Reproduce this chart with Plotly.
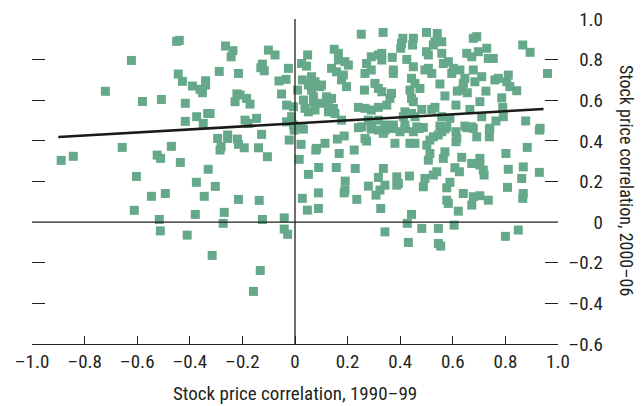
import plotly.graph_objects as go

# Country-pair stock price correlations: 1990-99 (x) vs 2000-06 (y)
pairs = [
    (-0.45,0.89),(-0.44,0.895),(-0.622,0.796),(-0.444,0.729),(-0.428,0.693),(-0.34,0.696),(-0.39,0.670),(-0.34,0.675),
    (-0.361,0.654),(-0.352,0.637),(-0.721,0.644),(-0.58,0.594),(-0.508,0.604),(-0.417,0.585),(-0.332,0.535),(-0.374,0.519),
    (-0.417,0.496),(-0.349,0.486),
    (0.252,0.925),(0.335,0.934),(-0.264,0.867),(-0.236,0.844),(-0.243,0.814),(-0.101,0.847),(-0.076,0.823),(-0.288,0.742),
    (-0.215,0.732),(-0.124,0.778),(-0.117,0.745),(-0.13,0.76),(-0.025,0.757),(-0.061,0.695),(-0.034,0.703),
    (0.048,0.823),(0.025,0.781),(0.044,0.768),(0.149,0.851),(0.165,0.831),(0.165,0.798),(0.19,0.79),(0.203,0.773),
    (0.139,0.757),(0.158,0.740),(0.184,0.724),(0.177,0.70),(0.196,0.667),
    (0.29,0.814),(0.317,0.823),(0.33,0.798),(0.272,0.781),(0.266,0.732),(0.29,0.749),(0.304,0.683),(0.264,0.65),
    (0.317,0.658),(0.33,0.642),
    (0.028,0.70),(0.010,0.650),(0.063,0.716),(0.076,0.691),(0.095,0.667),(0.051,0.675),(0.063,0.650),(0.101,0.675),
    (-0.051,0.631),(-0.221,0.631),(-0.209,0.626),(-0.228,0.593),(-0.184,0.609),(-0.171,0.581),(-0.032,0.576),
    (-0.006,0.568),(-0.013,0.519),
    (0.032,0.601),(0.038,0.560),(0.070,0.617),(0.070,0.593),(0.095,0.585),(0.051,0.543),(0.076,0.552),
    (0.12,0.617),(0.139,0.609),(0.127,0.585),(0.146,0.560),(0.127,0.543),(0.152,0.535),(0.177,0.502),
    (0.241,0.565),(0.266,0.560),(0.29,0.552),(0.317,0.565),(0.279,0.502),(0.317,0.502),(0.254,0.469),(0.29,0.478),
    (-0.323,0.535),(-0.19,0.502),(-0.178,0.486),(-0.146,0.511),(-0.032,0.494),(-0.006,0.478),(0.025,0.469),
    (0.41,0.905),(0.405,0.88),(0.402,0.856),(0.45,0.905),(0.447,0.872),(0.50,0.934),(0.541,0.929),(0.532,0.888),
    (0.558,0.888),(0.526,0.872),(0.50,0.839),(0.507,0.823),(0.558,0.831),(0.678,0.905),(0.691,0.913),(0.653,0.831),
    (0.672,0.814),(0.697,0.839),(0.729,0.856),(0.754,0.806),(0.735,0.806),(0.866,0.872),(0.894,0.836),(0.96,0.732),
    (0.33,0.831),(0.37,0.811),(0.425,0.801),(0.45,0.765),(0.374,0.749),(0.374,0.732),(0.507,0.757),(0.52,0.732),
    (0.494,0.749),(0.564,0.781),(0.583,0.79),(0.602,0.757),(0.627,0.749),(0.596,0.732),(0.678,0.749),(0.684,0.691),
    (0.71,0.716),(0.646,0.708),(0.64,0.683),(0.76,0.70),(0.773,0.708),(0.811,0.724),(0.805,0.691),(0.817,0.667),
    (0.843,0.647),(0.443,0.708),(0.456,0.683),(0.551,0.680),(0.367,0.634),(0.361,0.609),
    (0.437,0.65),(0.475,0.658),(0.443,0.609),(0.45,0.593),(0.349,0.576),(0.570,0.621),(0.617,0.645),(0.634,0.65),
    (0.655,0.637),(0.726,0.645),(0.612,0.576),(0.703,0.593),(0.786,0.612),(0.665,0.555),(0.79,0.565),
    (0.418,0.543),(0.412,0.519),(0.443,0.535),(0.456,0.519),(0.482,0.555),(0.52,0.555),(0.532,0.565),(0.558,0.519),
    (0.589,0.511),(0.71,0.519),(0.792,0.519),(0.764,0.498),(0.877,0.498),(0.932,0.462),
    (0.342,0.478),(0.374,0.478),(0.418,0.478),(0.463,0.469),(0.488,0.466),(0.551,0.473),(0.577,0.469),(0.646,0.473),
    (0.672,0.469),(0.741,0.462),
    (-0.889,0.304),(-0.843,0.324),(-0.657,0.368),(-0.524,0.33),(-0.511,0.314),(-0.47,0.373),(-0.436,0.294),
    (-0.33,0.26),(-0.603,0.225),(-0.375,0.196),(-0.493,0.141),(-0.546,0.127),(-0.345,0.127),(-0.611,0.058),
    (-0.379,0.038),(-0.516,0.013),(-0.512,-0.043),(-0.41,-0.064),
    (-0.294,0.412),(-0.285,0.355),(-0.281,0.371),(-0.256,0.429),(-0.256,0.412),(-0.219,0.409),(-0.215,0.383),
    (-0.193,0.366),(-0.127,0.432),(-0.139,0.366),(-0.105,0.322),(-0.022,0.404),(-0.003,0.453),(0.032,0.458),
    (0.023,0.383),(0.016,0.309),(0.079,0.355),(0.082,0.363),(0.114,0.388),(0.161,0.409),(0.187,0.424),(0.168,0.338),
    (0.225,0.355),(0.241,0.465),(0.266,0.412),(0.272,0.399),(0.29,0.458),(0.317,0.453),(0.336,0.437),
    (-0.303,0.176),(-0.215,0.112),(-0.136,0.107),(-0.269,0.048),(-0.273,-0.006),(-0.124,0.013),(-0.041,0.021),
    (-0.041,-0.034),(-0.028,-0.06),
    (0.051,0.235),(0.09,0.269),(0.157,0.269),(0.229,0.264),(0.089,0.144),(0.028,0.117),(0.047,0.059),(0.089,0.067),
    (0.187,0.144),(0.19,0.158),(0.191,0.202),(0.235,0.112),(0.279,0.177),(0.317,0.22),(0.308,0.133),(0.323,0.158),
    (0.326,0.067),(0.342,-0.048),(0.336,0.264),
    (0.342,0.453),(0.374,0.461),(0.399,0.445),(0.418,0.461),(0.45,0.445),(0.473,0.461),(0.526,0.42),(0.545,0.429),
    (0.558,0.445),(0.57,0.458),(0.513,0.404),(0.612,0.445),(0.615,0.412),(0.612,0.396),(0.653,0.465),(0.678,0.461),
    (0.691,0.42),(0.739,0.453),(0.739,0.42),(0.929,0.453),
    (0.38,0.388),(0.437,0.388),(0.456,0.388),(0.501,0.379),(0.513,0.338),(0.507,0.305),(0.57,0.346),(0.564,0.314),
    (0.634,0.319),(0.672,0.289),(0.703,0.314),(0.703,0.281),(0.716,0.256),(0.719,0.232),(0.802,0.338),(0.883,0.368),
    (0.811,0.26),(0.868,0.272),(0.929,0.245),(0.435,0.227),(0.387,0.223),(0.393,0.19),(0.387,0.182),(0.494,0.215),
    (0.526,0.232),(0.539,0.248),(0.608,0.268),(0.625,0.248),(0.342,0.182),
    (0.488,0.174),(0.589,0.196),(0.577,0.169),(0.64,0.141),(0.808,0.171),(0.862,0.215),(0.868,0.141),(0.866,0.117),
    (0.577,0.108),(0.583,0.092),(0.678,0.125),(0.703,0.13),(0.735,0.108),(0.672,0.084),(0.621,0.054),
    (0.443,0.038),(0.427,-0.006),(0.605,-0.015),(0.482,-0.031),(0.545,-0.031),(0.80,-0.07),(0.849,-0.039),
    (-0.315,-0.164),(-0.132,-0.238),(-0.158,-0.341),
    (0.431,-0.1),(0.545,-0.105),(0.554,-0.118),
]
corr_1990_99 = [p[0] for p in pairs]
corr_2000_06 = [p[1] for p in pairs]

# fitted regression line
fit_x_range = [-0.9, 0.945]
fit_intercept = 0.4863
fit_slope = 0.0748
fit_y = [fit_intercept + fit_slope * v for v in fit_x_range]

x_ticks = [-1.0, -0.8, -0.6, -0.4, -0.2, 0.0, 0.2, 0.4, 0.6, 0.8, 1.0]
x_ticktext = ["\u20131.0", "\u20130.8", "\u20130.6", "\u20130.4", "\u20130.2", "0", "0.2", "0.4", "0.6", "0.8", "1.0"]
y_ticks = [1.0, 0.8, 0.6, 0.4, 0.2, 0.0, -0.2, -0.4, -0.6]
y_ticktext = ["1.0", "0.8", "0.6", "0.4", "0.2", "0", "\u20130.2", "\u20130.4", "\u20130.6"]
y_dash_ticks = [1.0, 0.8, 0.6, 0.4, 0.2, -0.2, -0.4]

FONT = "Liberation Sans Narrow, Arial Narrow, Roboto Condensed, Liberation Sans, sans-serif"
FS = 19
TXT = "#231f20"
LINE = "#231f20"

W, H = 641, 406
L, R, T, B = 32, 0, 19, 62
plot_w = W - L - R
x_right_px = 558

fig = go.Figure()
fig.add_trace(go.Scatter(
    x=corr_1990_99, y=corr_2000_06, mode="markers",
    marker=dict(symbol="square", size=9, color="#66a98a", line=dict(width=0)),
    hoverinfo="skip", showlegend=False,
))
fig.add_trace(go.Scatter(
    x=fit_x_range, y=fit_y, mode="lines",
    line=dict(color="#1a1a1a", width=2.6), hoverinfo="skip", showlegend=False,
))
# invisible trace to activate the label axis
fig.add_trace(go.Scatter(x=[None], y=[None], yaxis="y2", showlegend=False, hoverinfo="skip"))

fig.update_layout(
    width=W, height=H, margin=dict(l=L, r=R, t=T, b=B, pad=0, autoexpand=False),
    plot_bgcolor="white", paper_bgcolor="white",
    font=dict(family=FONT, size=FS, color=TXT),
    xaxis=dict(
        domain=[0, (x_right_px - L) / plot_w], range=[-1.0, 1.0], automargin=False,
        tickvals=x_ticks, ticktext=x_ticktext, ticks="inside", ticklen=8, tickwidth=1.3, tickcolor=LINE,
        showline=True, linecolor=LINE, linewidth=1.3, zeroline=False, showgrid=False,
        tickfont=dict(family=FONT, size=FS, color=TXT),
    ),
    yaxis=dict(
        range=[-0.6, 1.0], tickvals=y_dash_ticks, ticks="inside", ticklen=13, tickwidth=1.3, tickcolor=LINE,
        mirror="ticks", showline=False, showticklabels=False, zeroline=False, showgrid=False, automargin=False,
    ),
    yaxis2=dict(
        overlaying="y", anchor="free", side="left", position=(603 - L) / plot_w, automargin=False,
        range=[-0.6, 1.0], tickvals=y_ticks, ticktext=y_ticktext, ticks="",
        showline=False, zeroline=False, showgrid=False,
        tickfont=dict(family=FONT, size=FS, color=TXT),
    ),
    shapes=[
        dict(type="line", xref="x", yref="y", x0=-1.0, x1=1.0, y0=0, y1=0, layer="above",
             line=dict(color=LINE, width=1.3)),
        dict(type="line", xref="x", yref="y", x0=0, x1=0, y0=-0.6, y1=1.0, layer="above",
             line=dict(color=LINE, width=1.3)),
    ],
    annotations=[
        dict(text="Stock price correlation, 1990\u201399", xref="x", yref="paper",
             x=0, y=-(394 - (H - B)) / (H - T - B), xanchor="center", yanchor="middle", showarrow=False,
             font=dict(family=FONT, size=FS, color=TXT)),
        dict(text="Stock price correlation, 2000\u201306", xref="paper", yref="paper",
             x=(627 - L) / plot_w, y=((H - B) - 180) / (H - T - B), xanchor="center", yanchor="middle",
             textangle=90, showarrow=False, font=dict(family=FONT, size=18, color=TXT)),
    ],
)

fig.write_html("out.html")
